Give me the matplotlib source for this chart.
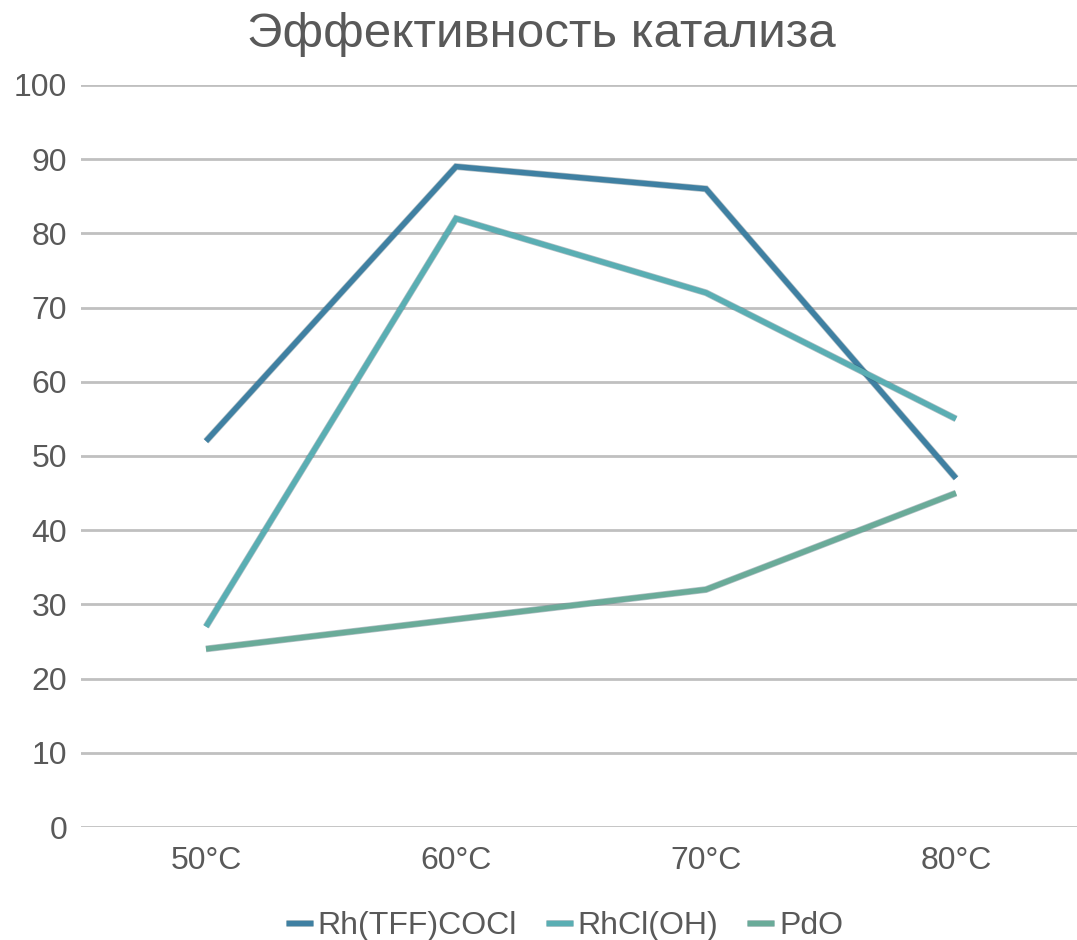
import matplotlib
matplotlib.use("Agg")
import matplotlib.pyplot as plt
import matplotlib.patheffects as pe

plt.rcParams["font.family"] = ["Liberation Sans", "DejaVu Sans"]

temps = ["50°C", "60°C", "70°C", "80°C"]
rh_tff = [52, 89, 86, 47]
rhcl_oh = [27, 82, 72, 55]
pdo = [24, 28, 32, 45]

series = [
    ("Rh(TFF)COCl", rh_tff, "#3f80a2"),
    ("RhCl(OH)", rhcl_oh, "#5aaeb3"),
    ("PdO", pdo, "#6aab99"),
]

fig = plt.figure(figsize=(10.77, 9.40), dpi=100)
ax = fig.add_axes([0.0752, 0.1202, 0.9285, 0.7894])

x = list(range(len(temps)))
for label, vals, color in series:
    ax.plot(x, vals, color=color, lw=3.9, label=label, solid_joinstyle="miter",
            solid_capstyle="butt", zorder=3,
            path_effects=[pe.Stroke(linewidth=4.9, foreground="#2b4f5e", alpha=0.35),
                          pe.Normal()])

ax.set_xlim(-0.5, 3.5)
ax.set_ylim(0, 100)
ax.set_yticks(range(0, 101, 10))
ax.set_xticks(x)
ax.set_xticklabels(temps)
ax.yaxis.grid(True, color="#c0c0c0", lw=2)
ax.set_axisbelow(True)
for s in ax.spines.values():
    s.set_visible(False)
ax.tick_params(length=0, labelsize=23, colors="#595959", pad=10)
ax.tick_params(axis="x", pad=14)

fig.text(0.503, 0.963, "Эффективность катализа", ha="center", va="center",
         fontsize=35.5, color="#595959")

handles, labels = ax.get_legend_handles_labels()
fig.legend(handles, labels, loc="center", bbox_to_anchor=(0.524, 0.015), ncol=3,
           frameon=False, fontsize=23, labelcolor="#595959", handlelength=0.85,
           handletextpad=0.15, columnspacing=0.9)

fig.savefig("out.png", dpi=100)
